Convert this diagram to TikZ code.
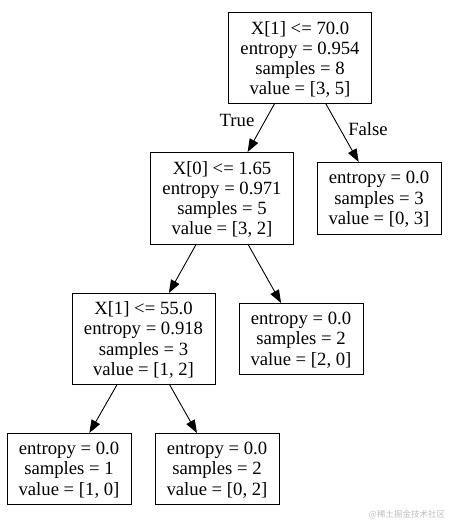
\documentclass[tikz,border=0pt]{standalone}
\usepackage{fontspec}
\setmainfont{Liberation Serif}
\newfontfamily\cjk{Noto Sans CJK SC}
\usetikzlibrary{arrows.meta}
\tikzset{
  tree/.style={draw, line width=0.9pt, inner sep=0pt, outer sep=0pt, align=center,
    font=\fontsize{18.7}{20.3}\selectfont, text depth=0pt},
  split/.style={tree, minimum width=143pt, minimum height=91pt},
  leaf/.style={tree, minimum width=124pt, minimum height=71pt},
  edge/.style={line width=0.9pt, -{Triangle[length=13pt,width=9.5pt]}},
  elabel/.style={font=\fontsize{18.7}{20.3}\selectfont, inner sep=0pt},
}
\begin{document}
\begin{tikzpicture}[x=1pt,y=-1pt]
\useasboundingbox (0,0) rectangle (453,525);
\node[split] (root) at (300,58) {X[1] <= 70.0\\entropy = 0.954\\samples = 8\\value = [3, 5]};
\node[split, minimum height=92pt] (x0) at (222,198) {X[0] <= 1.65\\entropy = 0.971\\samples = 5\\value = [3, 2]};
\node[leaf, minimum height=72pt] (l03) at (379,198) {entropy = 0.0\\samples = 3\\value = [0, 3]};
\node[split] (x1) at (143.5,338.5) {X[1] <= 55.0\\entropy = 0.918\\samples = 3\\value = [1, 2]};
\node[leaf] (l20) at (301,338.5) {entropy = 0.0\\samples = 2\\value = [2, 0]};
\node[leaf] (l10) at (69,468.5) {entropy = 0.0\\samples = 1\\value = [1, 0]};
\node[leaf] (l02) at (217,468.5) {entropy = 0.0\\samples = 2\\value = [0, 2]};
\draw[edge] (root) -- (x0);
\draw[edge] (root) -- (l03);
\draw[edge] (x0) -- (x1);
\draw[edge] (x0) -- (l20);
\draw[edge] (x1) -- (l10);
\draw[edge] (x1) -- (l02);
\node[elabel] (tlab) at (237,120) {True};
\node[elabel] (flab) at (368,129) {False};
\node[font=\cjk\fontsize{8.5}{9}\selectfont, text=black!25, inner sep=0pt] (wm) at (407,515) {@稀土掘金技术社区};
\end{tikzpicture}
\end{document}
